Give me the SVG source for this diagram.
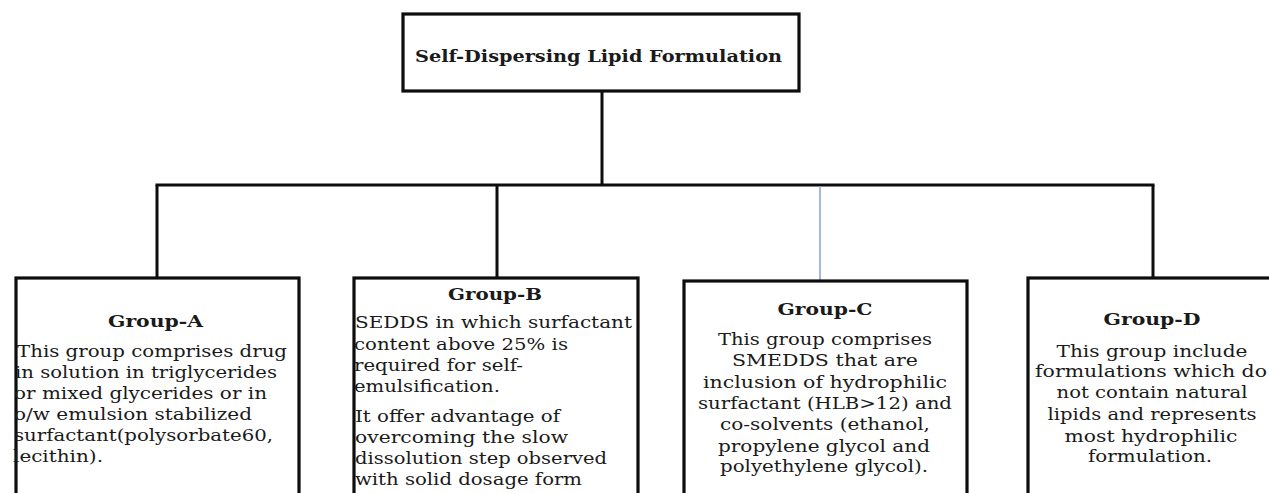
<svg xmlns="http://www.w3.org/2000/svg" width="1269" height="493" viewBox="0 0 1269 493">
<style>
.box{fill:#fff;stroke:#0d0d0d;stroke-width:3.2}
.con{stroke:#0d0d0d;stroke-width:3;fill:none}
.blue{stroke:#8aa8d8;stroke-width:1.6;fill:none}
text{font-family:"DejaVu Serif","Liberation Serif",serif;fill:#1a1a1a}
.t{font-weight:bold;font-size:16px}
.h{font-weight:bold;font-size:17px}
.b{font-size:17px}
.c{text-anchor:middle}
</style>
<rect width="1269" height="493" fill="#fff"/>
<g id="connectors">
<line class="con" x1="602" y1="92" x2="602" y2="186"/>
<line class="con" x1="155.5" y1="185" x2="1154.5" y2="185"/>
<line class="con" x1="157" y1="185" x2="157" y2="278"/>
<line class="con" x1="497" y1="185" x2="497" y2="278"/>
<line class="blue" x1="820" y1="186" x2="820" y2="281"/>
<line class="con" x1="1153" y1="185" x2="1153" y2="278"/>
</g>
<g id="root">
<rect class="box" x="403" y="14" width="396" height="77"/>
<text class="t" x="415" y="62" textLength="367" lengthAdjust="spacingAndGlyphs">Self-Dispersing Lipid Formulation</text>
</g>
<g id="groupA">
<rect class="box" x="16" y="278" width="283" height="240"/>
<text class="h" x="108" y="327" textLength="95" lengthAdjust="spacingAndGlyphs">Group-A</text>
<text class="b" x="17" y="357" textLength="270" lengthAdjust="spacingAndGlyphs">This group comprises drug</text>
<text class="b" x="15" y="378" textLength="262" lengthAdjust="spacingAndGlyphs">in solution in triglycerides</text>
<text class="b" x="14" y="399" textLength="253" lengthAdjust="spacingAndGlyphs">or mixed glycerides or in</text>
<text class="b" x="14" y="420" textLength="238" lengthAdjust="spacingAndGlyphs">o/w emulsion  stabilized</text>
<text class="b" x="14" y="441" textLength="259" lengthAdjust="spacingAndGlyphs">surfactant(polysorbate60,</text>
<text class="b" x="13" y="462" textLength="90" lengthAdjust="spacingAndGlyphs">lecithin).</text>
</g>
<g id="groupB">
<rect class="box" x="354" y="278" width="284" height="240"/>
<text class="h" x="448" y="300" textLength="94" lengthAdjust="spacingAndGlyphs">Group-B</text>
<text class="b" x="355" y="328" textLength="277" lengthAdjust="spacingAndGlyphs">SEDDS in which surfactant</text>
<text class="b" x="354" y="350" textLength="214" lengthAdjust="spacingAndGlyphs">content above 25% is</text>
<text class="b" x="354" y="371" textLength="169" lengthAdjust="spacingAndGlyphs">required for self-</text>
<text class="b" x="354" y="392" textLength="146" lengthAdjust="spacingAndGlyphs">emulsification.</text>
<text class="b" x="355" y="422" textLength="205" lengthAdjust="spacingAndGlyphs">It offer advantage of</text>
<text class="b" x="355" y="443" textLength="213" lengthAdjust="spacingAndGlyphs">overcoming  the slow</text>
<text class="b" x="355" y="464" textLength="252" lengthAdjust="spacingAndGlyphs">dissolution step observed</text>
<text class="b" x="355" y="485" textLength="227" lengthAdjust="spacingAndGlyphs">with solid dosage form</text>
</g>
<g id="groupC">
<rect class="box" x="684" y="281" width="283" height="240"/>
<text class="h c" x="825" y="315" textLength="95" lengthAdjust="spacingAndGlyphs">Group-C</text>
<text class="b c" x="825" y="345" textLength="214" lengthAdjust="spacingAndGlyphs">This group comprises</text>
<text class="b c" x="825" y="366" textLength="186" lengthAdjust="spacingAndGlyphs">SMEDDS  that are</text>
<text class="b c" x="825" y="388" textLength="244" lengthAdjust="spacingAndGlyphs">inclusion of hydrophilic</text>
<text class="b c" x="825" y="409" textLength="254" lengthAdjust="spacingAndGlyphs">surfactant (HLB&gt;12) and</text>
<text class="b c" x="825" y="430" textLength="210" lengthAdjust="spacingAndGlyphs">co-solvents (ethanol,</text>
<text class="b c" x="824" y="452" textLength="212" lengthAdjust="spacingAndGlyphs">propylene glycol and</text>
<text class="b c" x="824" y="472" textLength="208" lengthAdjust="spacingAndGlyphs">polyethylene glycol).</text>
</g>
<g id="groupD">
<rect class="box" x="1028" y="278" width="270" height="240"/>
<text class="h c" x="1152" y="325" textLength="97" lengthAdjust="spacingAndGlyphs">Group-D</text>
<text class="b c" x="1152" y="357" textLength="191" lengthAdjust="spacingAndGlyphs">This group include</text>
<text class="b c" x="1151" y="377" textLength="232" lengthAdjust="spacingAndGlyphs">formulations which do</text>
<text class="b c" x="1152" y="398" textLength="191" lengthAdjust="spacingAndGlyphs">not contain natural</text>
<text class="b c" x="1152" y="420" textLength="209" lengthAdjust="spacingAndGlyphs">lipids and represents</text>
<text class="b c" x="1151" y="442" textLength="173" lengthAdjust="spacingAndGlyphs">most hydrophilic</text>
<text class="b c" x="1150" y="462" textLength="124" lengthAdjust="spacingAndGlyphs">formulation.</text>
</g>
</svg>
